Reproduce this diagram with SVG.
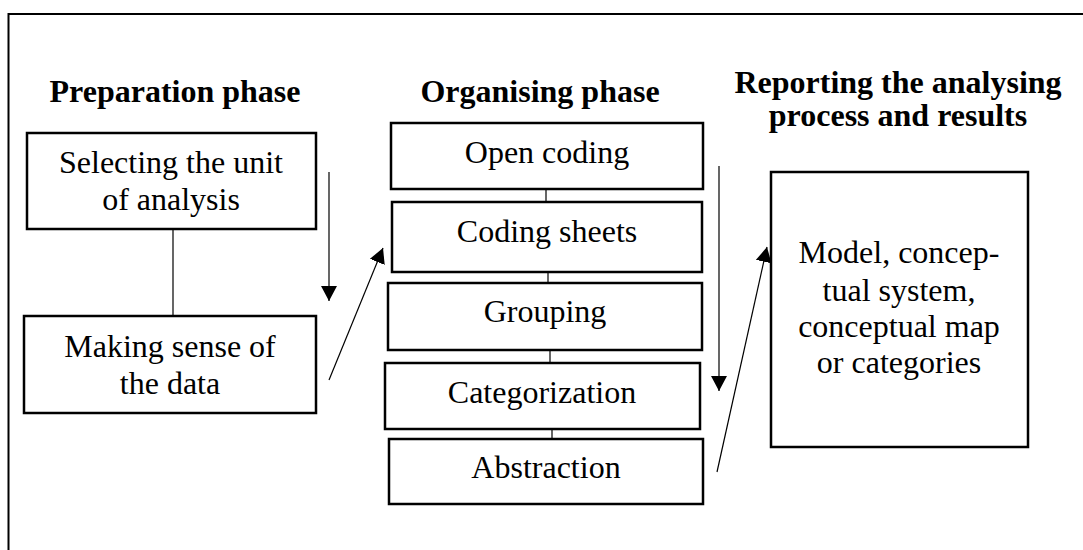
<svg xmlns="http://www.w3.org/2000/svg" width="1083" height="550" viewBox="0 0 1083 550">
<style>
.box{fill:#fff;stroke:#000;stroke-width:2.5}
.t{font-family:"Liberation Serif","Times New Roman",serif;font-size:32px;fill:#000;text-anchor:middle}
.h{font-family:"Liberation Serif","Times New Roman",serif;font-size:32px;font-weight:bold;fill:#000;text-anchor:middle}
.c{stroke:#000;stroke-width:1.2;fill:none}
</style>
<defs>
<marker id="ah" markerWidth="16" markerHeight="16" refX="15" refY="8" orient="auto" markerUnits="userSpaceOnUse">
<path d="M0,0 L15,8 L0,16 Z" fill="#000"/>
</marker>
</defs>
<rect x="0" y="0" width="1083" height="550" fill="#fff"/>
<path d="M8.5,550 V14 H1083" fill="none" stroke="#000" stroke-width="2"/>
<g id="headings">
<text class="h" x="175" y="102">Preparation phase</text>
<text class="h" x="540" y="102">Organising phase</text>
<text class="h" x="898" y="93">Reporting the analysing</text>
<text class="h" x="898" y="126">process and results</text>
</g>
<g id="connectors">
<line class="c" x1="173" y1="229" x2="173" y2="316"/>
<line class="c" x1="546" y1="189" x2="546" y2="202"/>
<line class="c" x1="548" y1="272" x2="548" y2="283"/>
<line class="c" x1="550" y1="350" x2="550" y2="363"/>
<line class="c" x1="552" y1="429" x2="552" y2="439"/>
<line class="c" x1="329" y1="172" x2="329" y2="301" marker-end="url(#ah)"/>
<line class="c" x1="329" y1="380" x2="383" y2="248" marker-end="url(#ah)"/>
<line class="c" x1="719" y1="166" x2="719" y2="391" marker-end="url(#ah)"/>
<line class="c" x1="717" y1="472" x2="767" y2="247" marker-end="url(#ah)"/>
</g>
<g id="selecting">
<rect class="box" x="27" y="133" width="289" height="96"/>
<text class="t" x="171" y="173">Selecting the unit</text>
<text class="t" x="171" y="210">of analysis</text>
</g>
<g id="making-sense">
<rect class="box" x="24" y="316" width="292" height="97"/>
<text class="t" x="170" y="357">Making sense of</text>
<text class="t" x="170" y="394">the data</text>
</g>
<g id="open-coding">
<rect class="box" x="391" y="123" width="312" height="66"/>
<text class="t" x="547" y="163">Open coding</text>
</g>
<g id="coding-sheets">
<rect class="box" x="392" y="202" width="310" height="70"/>
<text class="t" x="547" y="242">Coding sheets</text>
</g>
<g id="grouping">
<rect class="box" x="388" y="283" width="314" height="67"/>
<text class="t" x="545" y="322">Grouping</text>
</g>
<g id="categorization">
<rect class="box" x="385" y="363" width="315" height="66"/>
<text class="t" x="542" y="403">Categorization</text>
</g>
<g id="abstraction">
<rect class="box" x="389" y="439" width="314" height="65"/>
<text class="t" x="546" y="478">Abstraction</text>
</g>
<g id="result">
<rect class="box" x="771" y="172" width="257" height="275"/>
<text class="t" x="899" y="263">Model, concep-</text>
<text class="t" x="899" y="301">tual system,</text>
<text class="t" x="899" y="337">conceptual map</text>
<text class="t" x="899" y="373">or categories</text>
</g>
</svg>
